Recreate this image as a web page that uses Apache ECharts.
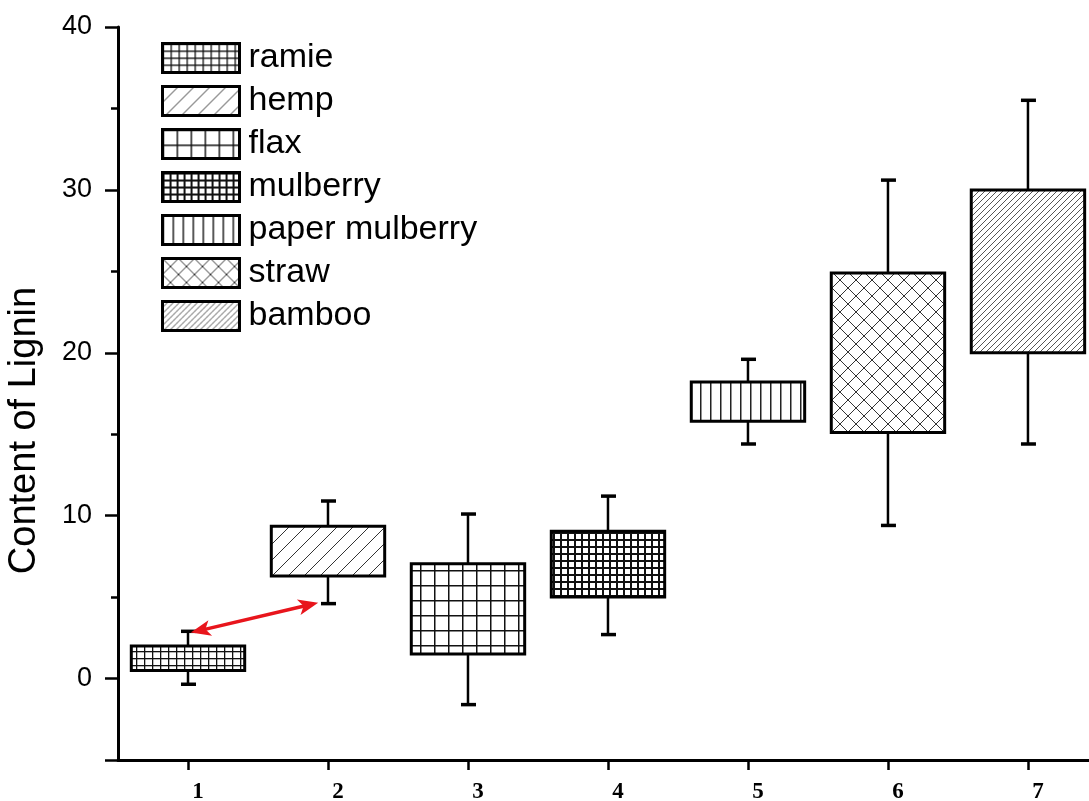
<!DOCTYPE html>
<html><head><meta charset="utf-8">
<script src="https://cdn.jsdelivr.net/npm/echarts@6/dist/echarts.min.js"></script>
<style>html,body{margin:0;padding:0;background:#fff;overflow:hidden}#c{width:1089px;height:801px}</style>
</head><body><div id="c"></div>
<script>
// ---- data ----
const categories = [1, 2, 3, 4, 5, 6, 7];
const materials = ['ramie', 'hemp', 'flax', 'mulberry', 'paper mulberry', 'straw', 'bamboo'];
const whiskerLow  = [-0.35, 4.6, -1.6, 2.7, 14.4, 9.4, 14.4];
const boxLow      = [0.5, 6.3, 1.5, 5.0, 15.8, 15.1, 20.0];
const boxHigh     = [2.0, 9.35, 7.05, 9.05, 18.2, 24.9, 30.0];
const whiskerHigh = [2.9, 10.9, 10.1, 11.2, 19.6, 30.6, 35.5];
const arrowFrom = [1.02, 2.82];
const arrowTo = [1.93, 4.66];
const yMin = -5, yMax = 40;
const xMin = 0.5, xMax = 7.436;

// ---- hatch patterns ----
function tile(w, h, draw) {
  const c = document.createElement('canvas');
  c.width = w; c.height = h;
  const g = c.getContext('2d');
  g.fillStyle = '#fff'; g.fillRect(0, 0, w, h);
  draw(g, w, h);
  return { image: c, repeat: 'repeat' };
}
function gridP(w, h, lw, col) {
  return tile(w, h, (g) => { g.fillStyle = col; g.fillRect(0, 0, lw, h); g.fillRect(0, 0, w, lw); });
}
function vertP(w, lw, col) {
  return tile(w, 4, (g, W, H) => { g.fillStyle = col; g.fillRect(0, 0, lw, H); });
}
function diagP(s, lw, col, both) {
  return tile(s, s, (g) => {
    g.strokeStyle = col; g.lineWidth = lw;
    for (let k = -1; k <= 1; k++) {
      g.beginPath(); g.moveTo(k * s, s); g.lineTo(k * s + s, 0); g.stroke();
      if (both) { g.beginPath(); g.moveTo(k * s, 0); g.lineTo(k * s + s, s); g.stroke(); }
    }
  });
}
const patterns = [
  gridP(8, 7, 1.3, '#111'),      // ramie
  diagP(16, 1, '#333', false),   // hemp
  gridP(14, 15, 1.5, '#111'),    // flax
  gridP(7, 7, 2, '#111'),        // mulberry
  vertP(10, 1.5, '#222'),        // paper mulberry
  diagP(16, 1, '#333', true),    // straw
  diagP(6, 1, '#555', false)     // bamboo
];

function renderBox(params, api) {
  const c = api.value(0);
  const x = api.coord([c, 0])[0];
  const band = api.size([1, 0])[0];
  const bw = band * 0.81;
  const yWL = api.coord([c, api.value(1)])[1];
  const yBL = api.coord([c, api.value(2)])[1];
  const yBH = api.coord([c, api.value(3)])[1];
  const yWH = api.coord([c, api.value(4)])[1];
  const ls = { stroke: '#000', lineWidth: 2.5 };
  const cs = { stroke: '#000', lineWidth: 3.5 };
  return {
    type: 'group',
    children: [
      { type: 'line', shape: { x1: x, y1: yWH, x2: x, y2: yBH }, style: ls },
      { type: 'line', shape: { x1: x, y1: yBL, x2: x, y2: yWL }, style: ls },
      { type: 'line', shape: { x1: x - 7, y1: yWH, x2: x + 8, y2: yWH }, style: cs },
      { type: 'line', shape: { x1: x - 7, y1: yWL, x2: x + 8, y2: yWL }, style: cs },
      { type: 'rect', shape: { x: x - bw / 2, y: yBH, width: bw, height: yBL - yBH },
        style: { fill: patterns[params.seriesIndex], stroke: '#000', lineWidth: 3 } }
    ]
  };
}

function renderArrow(params, api) {
  const p1 = api.coord([api.value(0), api.value(1)]);
  const p2 = api.coord([api.value(2), api.value(3)]);
  const dx = p2[0] - p1[0], dy = p2[1] - p1[1];
  const len = Math.sqrt(dx * dx + dy * dy);
  const ux = dx / len, uy = dy / len, nx = -uy, ny = ux;
  const L = 20, W = 8;
  const head = (p, s) => [
    [p[0], p[1]],
    [p[0] - s * ux * L + nx * W, p[1] - s * uy * L + ny * W],
    [p[0] - s * ux * L * 0.75, p[1] - s * uy * L * 0.75],
    [p[0] - s * ux * L - nx * W, p[1] - s * uy * L - ny * W]
  ];
  const red = '#e8151c';
  return {
    type: 'group',
    children: [
      { type: 'line', shape: { x1: p1[0] + ux * 10, y1: p1[1] + uy * 10, x2: p2[0] - ux * 10, y2: p2[1] - uy * 10 },
        style: { stroke: red, lineWidth: 3.5 } },
      { type: 'polygon', shape: { points: head(p2, 1) }, style: { fill: red } },
      { type: 'polygon', shape: { points: head(p1, -1) }, style: { fill: red } }
    ]
  };
}

const series = materials.map((m, i) => ({
  name: m,
  type: 'custom',
  renderItem: renderBox,
  yAxisIndex: 0,
  itemStyle: { color: patterns[i] },
  encode: { x: 0, y: [1, 2, 3, 4] },
  data: [[categories[i], whiskerLow[i], boxLow[i], boxHigh[i], whiskerHigh[i]]],
  silent: true,
  z: 3
}));
series.push({
  name: 'arrow',
  type: 'custom',
  renderItem: renderArrow,
  yAxisIndex: 0,
  encode: { x: [0, 2], y: [1, 3] },
  data: [[arrowFrom[0], arrowFrom[1], arrowTo[0], arrowTo[1]]],
  silent: true,
  z: 5
});

const FONT = 'Liberation Sans, Arial, sans-serif';
const option = {
  animation: false,
  backgroundColor: '#fff',
  grid: { left: 118, right: 0, top: 27, bottom: 41, containLabel: false, outerBoundsMode: 'none' },
  legend: {
    data: materials,
    orient: 'vertical',
    left: 161, top: 41,
    padding: 0,
    icon: 'rect',
    itemWidth: 77, itemHeight: 29, itemGap: 9,
    selectedMode: false,
    itemStyle: { borderColor: '#000', borderWidth: 3 },
    textStyle: { fontSize: 34, fontFamily: FONT, color: '#000', padding: [0, 0, 0, 4] }
  },
  xAxis: {
    type: 'value',
    min: xMin, max: xMax,
    axisLine: { show: true, onZero: false, lineStyle: { color: '#000', width: 3 } },
    axisTick: { show: true, customValues: categories, length: 10, lineStyle: { color: '#000', width: 2.5 } },
    axisLabel: { customValues: categories, color: '#000', fontFamily: 'Liberation Serif, Times New Roman, serif', fontWeight: 'bold', fontSize: 23, margin: 21, padding: [0, 0, 0, 20] },
    splitLine: { show: false }
  },
  yAxis: [
    {
      type: 'value', min: yMin, max: yMax, interval: 5, position: 'left',
      axisLine: { show: true, onZero: false, lineStyle: { color: '#000', width: 3 } },
      axisTick: { show: true, length: 7, lineStyle: { color: '#000', width: 2.5 } },
      axisLabel: { show: false },
      splitLine: { show: false },
      name: 'Content of Lignin', nameLocation: 'middle', nameGap: 74, nameRotate: 90,
      nameTextStyle: { fontSize: 38, fontFamily: FONT, color: '#000', padding: [0, 74, 0, 0] }
    },
    {
      type: 'value', min: yMin, max: yMax, splitNumber: 5, position: 'left',
      axisLine: { show: false, onZero: false },
      axisTick: { show: true, length: 13, lineStyle: { color: '#000', width: 2.5 } },
      axisLabel: { color: '#000', fontSize: 27, fontFamily: FONT, margin: 26,
        formatter: (v) => (v === yMin ? '' : String(v)) },
      splitLine: { show: false }
    }
  ],
  series: series
};
const chart = echarts.init(document.getElementById('c'), null, { renderer: 'canvas' });
chart.setOption(option);
</script>
</body></html>
